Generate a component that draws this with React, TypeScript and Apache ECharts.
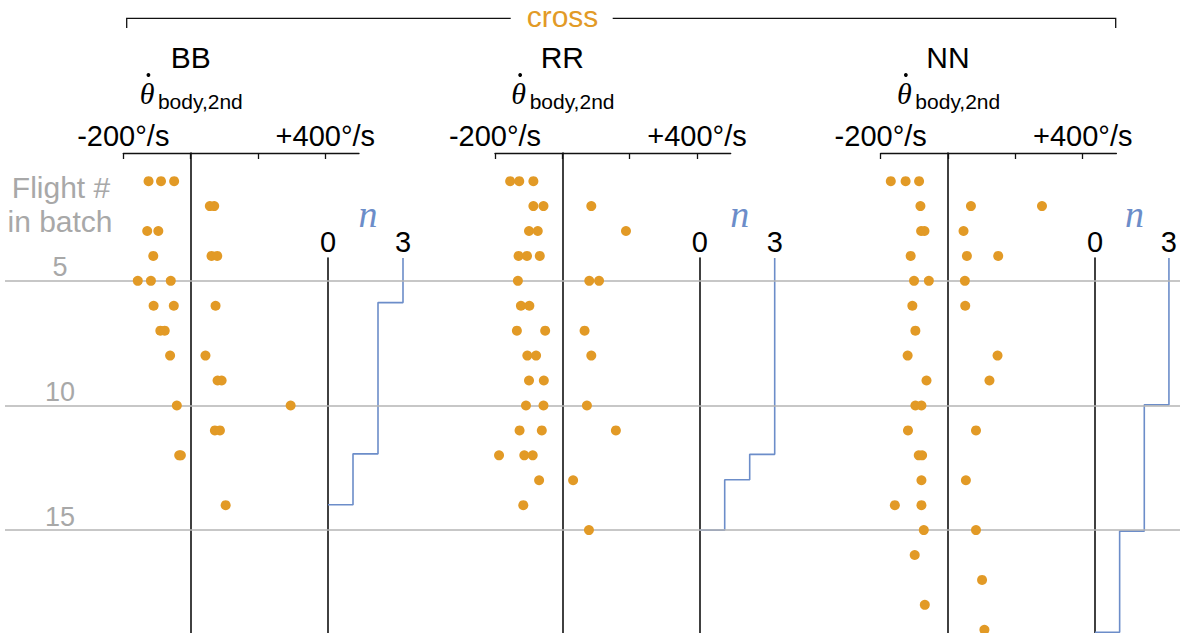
import React, { useEffect, useRef } from 'react';
import * as echarts from 'echarts';

// ---------- data ----------
const panelNames = ['BB', 'RR', 'NN'];
const crossLabel = 'cross';
const rowLines = [5, 10, 15];
const rateTickValues = [-200, 0, 200, 400];
const rateLabelValues = [-200, 400];
const nLabelValues = [0, 3];

// [angular rate (deg/s), flight # in batch]
const bbPoints: number[][] = [
  [-125, 1], [-88, 1], [-49, 1],
  [57, 2], [70, 2],
  [-129, 3], [-96, 3],
  [-111, 4], [62, 4], [79, 4],
  [-157, 5], [-118, 5], [-59, 5],
  [-110, 6], [-50, 6], [74, 6],
  [-90, 7], [-77, 7],
  [-61, 8], [44, 8],
  [80, 9], [92, 9],
  [-41, 10], [297, 10],
  [72, 11], [87, 11],
  [-34, 12], [-29, 12],
  [104, 14],
];
const rrPoints: number[][] = [
  [-155, 1], [-128, 1], [-86, 1],
  [-86, 2], [-56, 2], [86, 2],
  [-99, 3], [-73, 3], [189, 3],
  [-130, 4], [-105, 4], [-67, 4],
  [-132, 5], [80, 5], [109, 5],
  [-123, 6], [-98, 6],
  [-135, 7], [-51, 7], [66, 7],
  [-104, 8], [-78, 8], [86, 8],
  [-99, 9], [-55, 9],
  [-108, 10], [-56, 10], [73, 10],
  [-127, 11], [-61, 11], [159, 11],
  [-188, 12], [-113, 12], [-88, 12],
  [-69, 13], [32, 13],
  [-116, 14],
  [79, 15],
];
const nnPoints: number[][] = [
  [-170, 1], [-126, 1], [-86, 1],
  [-82, 2], [68, 2], [279, 2],
  [-80, 3], [-70, 3], [46, 3],
  [-111, 4], [56, 4], [149, 4],
  [-101, 5], [-57, 5], [50, 5],
  [-106, 6], [51, 6],
  [-97, 7],
  [-120, 8], [147, 8],
  [-64, 9], [123, 9],
  [-97, 10], [-79, 10],
  [-119, 11], [83, 11],
  [-87, 12], [-77, 12],
  [-79, 13], [53, 13],
  [-158, 14], [-79, 14],
  [-72, 15], [83, 15],
  [-99, 16],
  [101, 17],
  [-69, 18],
  [108, 19],
];

// step curves of n: [n, flight #]
const bbSteps: number[][] = [[3, 4.08], [3, 5.87], [2, 5.87], [2, 11.94], [1, 11.94], [1, 13.98], [0, 13.98]];
const rrSteps: number[][] = [[3, 4.08], [3, 11.96], [2, 11.96], [2, 12.98], [1, 12.98], [1, 15.0], [0, 15.0]];
const nnSteps: number[][] = [[3, 4.08], [3, 9.97], [2, 9.97], [2, 15.04], [1, 15.04], [1, 19.1], [0, 19.1]];

const allPoints = [bbPoints, rrPoints, nnPoints];
const allSteps = [bbSteps, rrSteps, nnSteps];

// ---------- style / layout ----------
const ORANGE = '#E29A26';
const BLUE = '#6C8DC9';
const GRAY_TXT = '#A8A8A8';
const GRAY_LINE = '#B4B4B4';
const INK = '#111111';
const SANS = '"Liberation Sans", Arial, Helvetica, sans-serif';
const SERIF = '"Liberation Serif", "DejaVu Serif", serif';

const TOP = 153;
const HEIGHT = 480;
const Y_MIN = -0.13;
const Y_MAX = 19.13;
const N_TOP = 258;
const N_Y_MIN = 4.08;

const rateLeft = [123.3, 495, 880.7];
const rateWidth = 235.7;
const RATE_MIN = -200;
const RATE_MAX = 500;
const nLeft = [328, 699.7, 1095];
const nWidth = 75;

export default function App() {
  const ref = useRef<HTMLDivElement>(null);

  useEffect(() => {
    if (!ref.current) return;
    const chart = echarts.init(ref.current, undefined, { renderer: 'svg' });

    const grids: any[] = [{ left: 5, width: 1175, top: TOP, height: HEIGHT }];
    const xAxes: any[] = [{ gridIndex: 0, type: 'value', min: 0, max: 1, show: false }];
    const yAxes: any[] = [
      {
        gridIndex: 0, type: 'value', inverse: true, min: Y_MIN, max: Y_MAX,
        axisLine: { show: false }, axisTick: { show: false }, splitLine: { show: false },
        axisLabel: {
          customValues: rowLines, inside: true, margin: 55, align: 'center', verticalAlign: 'bottom',
          color: GRAY_TXT, fontSize: 27, fontFamily: SANS, lineHeight: 27,
        },
      },
    ];
    const series: any[] = [
      {
        type: 'line', xAxisIndex: 0, yAxisIndex: 0, data: [], silent: true, z: 1,
        markLine: {
          silent: true, symbol: 'none', animation: false, label: { show: false },
          lineStyle: { color: GRAY_LINE, width: 1.5, type: 'solid' },
          data: rowLines.map((v) => ({ yAxis: v })),
        },
      },
    ];

    const zeroX: number[] = [];
    for (let i = 0; i < 3; i++) {
      const px = rateWidth / (RATE_MAX - RATE_MIN);
      zeroX.push(rateLeft[i] + (0 - RATE_MIN) * px);
      grids.push({ left: rateLeft[i], width: rateWidth, top: TOP, height: HEIGHT });
    }
    for (let i = 0; i < 3; i++) {
      grids.push({ left: nLeft[i], width: nWidth, top: N_TOP, height: TOP + HEIGHT - N_TOP });
    }

    for (let i = 0; i < 3; i++) {
      xAxes.push({
        gridIndex: 1 + i, type: 'value', min: RATE_MIN, max: RATE_MAX, position: 'top',
        axisLine: { onZero: false, lineStyle: { color: INK, width: 1.3 } },
        axisTick: { inside: true, length: 6, customValues: rateTickValues, lineStyle: { color: INK, width: 1.3 } },
        axisLabel: {
          customValues: rateLabelValues, margin: 3, color: '#000', fontSize: 29, fontFamily: SANS,
          formatter: (v: number) => (v > 0 ? '+' : '') + v + '°/s',
        },
        splitLine: { show: false },
      });
      yAxes.push({
        gridIndex: 1 + i, type: 'value', inverse: true, min: Y_MIN, max: Y_MAX, z: 3,
        axisLine: { show: true, onZero: true, lineStyle: { color: INK, width: 1.6 } },
        axisTick: { show: false }, axisLabel: { show: false }, splitLine: { show: false },
      });
      series.push({
        type: 'scatter', xAxisIndex: 1 + i, yAxisIndex: 1 + i, data: allPoints[i],
        symbolSize: 10, itemStyle: { color: ORANGE, opacity: 1 }, clip: false, z: 5,
      });
    }
    for (let i = 0; i < 3; i++) {
      xAxes.push({
        gridIndex: 4 + i, type: 'value', min: 0, max: 3, position: 'top',
        axisLine: { show: false, onZero: false }, axisTick: { show: false }, splitLine: { show: false },
        axisLabel: { customValues: nLabelValues, margin: 2, color: '#000', fontSize: 29, fontFamily: SANS },
        name: 'n', nameLocation: 'middle', nameGap: 25, nameMoveOverlap: false,
        nameTextStyle: { fontFamily: SERIF, fontStyle: 'italic', fontSize: 38, color: BLUE, padding: [0, 0, 0, 5] },
      });
      yAxes.push({
        gridIndex: 4 + i, type: 'value', inverse: true, min: N_Y_MIN, max: Y_MAX, z: 3,
        axisLine: { show: true, onZero: true, lineStyle: { color: INK, width: 1.6 } },
        axisTick: { show: false }, axisLabel: { show: false }, splitLine: { show: false },
      });
      series.push({
        type: 'line', xAxisIndex: 4 + i, yAxisIndex: 4 + i, data: allSteps[i],
        symbol: 'none', clip: false, z: 4, lineStyle: { color: BLUE, width: 1.6 },
      });
    }

    const graphics: any[] = [
      { type: 'polyline', shape: { points: [[126.7, 28], [126.7, 18.3], [510.7, 18.3]] }, style: { stroke: INK, lineWidth: 1.3, fill: null } },
      { type: 'polyline', shape: { points: [[612.7, 18.3], [1115.7, 18.3], [1115.7, 28]] }, style: { stroke: INK, lineWidth: 1.3, fill: null } },
      { type: 'text', x: 562.5, y: 16.5, style: { text: crossLabel, fill: ORANGE, font: `30px ${SANS}`, textAlign: 'center', textVerticalAlign: 'middle' } },
      { type: 'text', x: 61, y: 187, style: { text: 'Flight #', fill: GRAY_TXT, font: `30px ${SANS}`, textAlign: 'center', textVerticalAlign: 'middle' } },
      { type: 'text', x: 60, y: 221, style: { text: 'in batch', fill: GRAY_TXT, font: `30px ${SANS}`, textAlign: 'center', textVerticalAlign: 'middle' } },
    ];
    for (let i = 0; i < 3; i++) {
      const x0 = zeroX[i];
      graphics.push(
        { type: 'text', x: x0, y: 57, style: { text: panelNames[i], fill: '#000', font: `30px ${SANS}`, textAlign: 'center', textVerticalAlign: 'middle' } },
        { type: 'text', x: x0 - 51, y: 93, style: { text: 'θ', fill: '#000', font: `italic 30px ${SERIF}`, textAlign: 'left', textVerticalAlign: 'middle' } },
        { type: 'circle', shape: { cx: x0 - 42.2, cy: 75, r: 1.9 }, style: { fill: '#000' } },
        { type: 'text', x: x0 - 32.7, y: 101, style: { text: 'body,2nd', fill: '#000', font: `21px ${SANS}`, textAlign: 'left', textVerticalAlign: 'middle' } },
      );
    }

    chart.setOption({
      animation: false,
      backgroundColor: '#fff',
      grid: grids,
      xAxis: xAxes,
      yAxis: yAxes,
      series,
      graphic: graphics,
    });
    return () => chart.dispose();
  }, []);

  return <div ref={ref} style={{ position: 'absolute', left: 0, top: 0, width: 1180, height: 633 }} />;
}
